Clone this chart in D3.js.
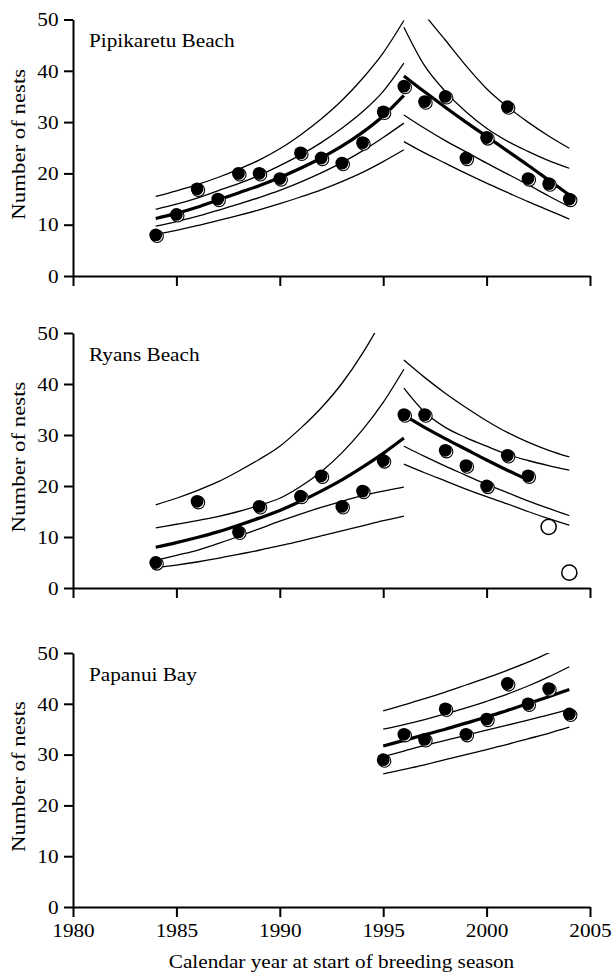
<!DOCTYPE html>
<html>
<head>
<meta charset="utf-8">
<script src="https://cdn.jsdelivr.net/npm/d3@7"></script>
<style>
html, body { margin: 0; padding: 0; background: #fff; }
svg text { font-family: "Liberation Serif", "Times New Roman", serif; fill: #000; }
.sx { transform-box: fill-box; transform: scaleX(1.09); }
.sx-mid { transform-origin: center; }
.sx-end { transform-origin: right center; }
.sx-start { transform-origin: left center; }
.sx-ylab { transform-box: fill-box; transform-origin: center; transform: scaleX(1.17); }
.axis path, .axis line { stroke: #000; stroke-width: 2; }
</style>
</head>
<body>
<svg id="chart" width="614" height="973"></svg>
<script>
// ---- data ----
// Pipikaretu Beach
const pipiYears = [1984, 1985, 1986, 1987, 1988, 1989, 1990, 1991, 1992, 1993, 1994, 1995, 1996, 1997, 1998, 1999, 2000, 2001, 2002, 2003, 2004];
const pipiNests = [8, 12, 17, 15, 20, 20, 19, 24, 23, 22, 26, 32, 37, 34, 35, 23, 27, 33, 19, 18, 15];
const pipiRiseYears = [1984, 1985, 1986, 1987, 1988, 1989, 1990, 1991, 1992, 1993, 1994, 1995, 1996];
const pipiRiseFit  = [11.2, 12.2, 13.4, 14.8, 16.2, 17.6, 19.2, 21.0, 23.0, 25.3, 28.0, 31.2, 35.2];
const pipiRiseCiHi = [13.0, 14.0, 15.2, 16.6, 18.0, 19.6, 21.5, 23.6, 26.0, 28.8, 32.0, 36.0, 41.5];
const pipiRiseCiLo = [9.7, 10.6, 11.6, 12.8, 14.0, 15.3, 16.7, 18.3, 20.1, 22.1, 24.4, 27.0, 29.8];
const pipiRisePiHi = [15.5, 16.6, 17.8, 19.2, 20.8, 22.6, 24.8, 27.5, 30.6, 34.2, 38.5, 43.5, 49.8];
const pipiRisePiLo = [8.1, 8.9, 9.8, 10.8, 11.8, 12.9, 14.1, 15.4, 16.8, 18.4, 20.2, 22.3, 24.6];
const pipiFallYears = [1996, 1997, 1998, 1999, 2000, 2001, 2002, 2003, 2004];
const pipiFallFit  = [39.0, 35.9, 32.9, 30.0, 27.2, 24.4, 21.6, 18.7, 15.8];
const pipiFallCiHi = [48.5, 41.0, 36.0, 32.0, 28.8, 26.3, 24.3, 22.5, 21.0];
const pipiFallCiLo = [31.4, 28.8, 26.4, 24.2, 22.0, 19.9, 17.8, 15.6, 13.5];
const pipiFallPiHi = [57.0, 51.0, 46.0, 41.0, 36.5, 33.0, 30.0, 27.3, 24.9];
const pipiFallPiLo = [26.2, 24.0, 22.0, 20.0, 18.1, 16.3, 14.5, 12.8, 11.1];

// Ryans Beach
const ryansYears = [1984, 1986, 1988, 1989, 1991, 1992, 1993, 1994, 1995, 1996, 1997, 1998, 1999, 2000, 2001, 2002];
const ryansNests = [5, 17, 11, 16, 18, 22, 16, 19, 25, 34, 34, 27, 24, 20, 26, 22];
const ryansOpenYears = [2003, 2004];
const ryansOpenNests = [12, 3];
const ryansRiseYears = [1984, 1985, 1986, 1987, 1988, 1989, 1990, 1991, 1992, 1993, 1994, 1995, 1996];
const ryansRiseFit  = [8.0, 8.9, 9.9, 11.0, 12.3, 13.7, 15.2, 17.0, 19.0, 21.2, 23.7, 26.4, 29.4];
const ryansRiseCiHi = [11.8, 12.5, 13.2, 14.0, 15.0, 16.2, 17.6, 19.9, 22.8, 26.5, 31.0, 36.4, 42.9];
const ryansRiseCiLo = [5.4, 6.4, 7.4, 8.7, 10.1, 11.6, 13.1, 14.5, 15.8, 17.0, 18.1, 19.0, 19.8];
const ryansRisePiHi = [16.3, 17.6, 19.1, 20.8, 22.9, 25.2, 27.8, 31.3, 35.3, 40.1, 46.0, 53.0, 61.0];
const ryansRisePiLo = [4.0, 4.5, 5.1, 5.8, 6.6, 7.4, 8.3, 9.2, 10.2, 11.2, 12.2, 13.2, 14.1];
const ryansFallFitYears = [1996, 1997, 1998, 1999, 2000, 2001, 2002];
const ryansFallFit  = [33.9, 31.5, 29.3, 27.2, 25.1, 23.1, 21.2];
const ryansFallYears = [1996, 1997, 1998, 1999, 2000, 2001, 2002, 2003, 2004];
const ryansFallCiHi = [39.2, 34.5, 31.5, 29.5, 27.8, 26.2, 25.0, 24.0, 23.1];
const ryansFallCiLo = [27.8, 25.8, 23.9, 22.1, 20.3, 18.7, 17.1, 15.6, 14.2];
const ryansFallPiHi = [44.7, 41.3, 38.2, 35.4, 32.8, 30.5, 28.6, 27.0, 25.7];
const ryansFallPiLo = [24.3, 22.6, 21.0, 19.4, 17.9, 16.5, 15.0, 13.6, 12.3];

// Papanui Bay
const papYears = [1995, 1996, 1997, 1998, 1999, 2000, 2001, 2002, 2003, 2004];
const papNests = [29, 34, 33, 39, 34, 37, 44, 40, 43, 38];
const papFit  = [31.7, 32.8, 33.9, 35.0, 36.2, 37.4, 38.7, 40.0, 41.4, 42.8];
const papCiHi = [35.0, 35.9, 36.9, 38.0, 39.2, 40.5, 41.9, 43.5, 45.3, 47.3];
const papCiLo = [29.6, 30.7, 31.8, 32.8, 33.8, 34.8, 35.8, 36.8, 37.8, 38.9];
const papPiHi = [38.6, 39.8, 41.0, 42.3, 43.7, 45.1, 46.6, 48.2, 50.0, 51.8];
const papPiLo = [26.2, 27.1, 28.0, 29.0, 30.0, 31.0, 32.0, 33.1, 34.2, 35.4];

const yTicks = [0, 10, 20, 30, 40, 50];
const xTicks = [1980, 1985, 1990, 1995, 2000, 2005];

// ---- panels ----
const panels = [
    { name: 'Pipikaretu Beach', top: 19.5, bottom: 276, xLabels: false,
      fits: [[pipiRiseYears, pipiRiseFit], [pipiFallYears, pipiFallFit]],
      bands: [[pipiRiseYears, pipiRiseCiHi], [pipiRiseYears, pipiRiseCiLo], [pipiRiseYears, pipiRisePiHi], [pipiRiseYears, pipiRisePiLo],
              [pipiFallYears, pipiFallCiHi], [pipiFallYears, pipiFallCiLo], [pipiFallYears, pipiFallPiHi], [pipiFallYears, pipiFallPiLo]],
      dots: [pipiYears, pipiNests], open: null },
    { name: 'Ryans Beach', top: 333, bottom: 588, xLabels: false,
      fits: [[ryansRiseYears, ryansRiseFit], [ryansFallFitYears, ryansFallFit]],
      bands: [[ryansRiseYears, ryansRiseCiHi], [ryansRiseYears, ryansRiseCiLo], [ryansRiseYears, ryansRisePiHi], [ryansRiseYears, ryansRisePiLo],
              [ryansFallYears, ryansFallCiHi], [ryansFallYears, ryansFallCiLo], [ryansFallYears, ryansFallPiHi], [ryansFallYears, ryansFallPiLo]],
      dots: [ryansYears, ryansNests], open: [ryansOpenYears, ryansOpenNests] },
    { name: 'Papanui Bay', top: 653, bottom: 907, xLabels: true,
      fits: [[papYears, papFit]],
      bands: [[papYears, papCiHi], [papYears, papCiLo], [papYears, papPiHi], [papYears, papPiLo]],
      dots: [papYears, papNests], open: null }
];

const svg = d3.select('#chart');
const x = d3.scaleLinear().domain([1980, 2005]).range([73, 590]);
const zip = (xs, ys) => xs.map((v, i) => [v, ys[i]]);

panels.forEach((p, pi) => {
    const y = d3.scaleLinear().domain([0, 50]).range([p.bottom, p.top]);
    const g = svg.append('g').attr('class', 'panel');
    const clipId = 'clip' + pi;
    svg.append('defs').append('clipPath').attr('id', clipId)
        .append('rect').attr('x', x(1980)).attr('y', y(50)).attr('width', x(2005) - x(1980)).attr('height', y(0) - y(50));

    const line = d3.line().x(d => x(d[0])).y(d => y(d[1])).curve(d3.curveMonotoneX);
    const lines = g.append('g').attr('clip-path', `url(#${clipId})`);
    p.bands.forEach(b => {
        lines.append('path').attr('d', line(zip(b[0], b[1])))
            .attr('fill', 'none').attr('stroke', '#000').attr('stroke-width', 1.3);
    });
    p.fits.forEach(f => {
        lines.append('path').attr('d', line(zip(f[0], f[1])))
            .attr('fill', 'none').attr('stroke', '#000').attr('stroke-width', 3.2).attr('stroke-linecap', 'butt');
    });

    // filled markers: black disc with offset outline ring
    const pts = zip(p.dots[0], p.dots[1]);
    g.append('g').selectAll('circle').data(pts).join('circle')
        .attr('cx', d => x(d[0]) + 1.3).attr('cy', d => y(d[1]) + 1.3).attr('r', 6.3)
        .attr('fill', '#fff').attr('stroke', '#000').attr('stroke-width', 1.1);
    g.append('g').selectAll('circle').data(pts).join('circle')
        .attr('cx', d => x(d[0])).attr('cy', d => y(d[1])).attr('r', 6.4).attr('fill', '#000');
    if (p.open) {
        g.append('g').selectAll('circle').data(zip(p.open[0], p.open[1])).join('circle')
            .attr('cx', d => x(d[0])).attr('cy', d => y(d[1])).attr('r', 7.6)
            .attr('fill', '#fff').attr('stroke', '#000').attr('stroke-width', 1.5);
    }

    // axes
    const ya = g.append('g').attr('class', 'axis').attr('transform', `translate(${x(1980)},0)`)
        .call(d3.axisLeft(y).tickValues(yTicks).tickSize(9).tickSizeOuter(0).tickPadding(5.5));
    ya.selectAll('text').attr('font-size', '19.5px').attr('class', 'sx sx-end');
    const xa = g.append('g').attr('class', 'axis').attr('transform', `translate(0,${y(0)})`)
        .call(d3.axisBottom(x).tickValues(xTicks).tickSize(10).tickSizeOuter(0).tickPadding(6)
            .tickFormat(p.xLabels ? d3.format('d') : () => ''));
    xa.selectAll('text').attr('font-size', '19.5px').attr('class', 'sx sx-mid');
    g.selectAll('.axis').attr('font-family', null);

    // panel name
    g.append('text').attr('x', 89).attr('y', p.top + 28).attr('font-size', '19.5px')
        .attr('class', 'sx sx-start').text(p.name);

    // y title
    const cy = (p.top + p.bottom) / 2 - 3.5;
    g.append('g').attr('transform', `translate(25,${cy}) rotate(-90)`)
        .append('text').attr('text-anchor', 'middle').attr('font-size', '19.5px')
        .attr('class', 'sx-ylab').text('Number of nests');
});

svg.append('text').attr('x', (x(1980) + x(2005)) / 2 + 10).attr('y', 968).attr('text-anchor', 'middle')
    .attr('font-size', '19.5px').attr('class', 'sx sx-mid').text('Calendar year at start of breeding season');
</script>
</body>
</html>
